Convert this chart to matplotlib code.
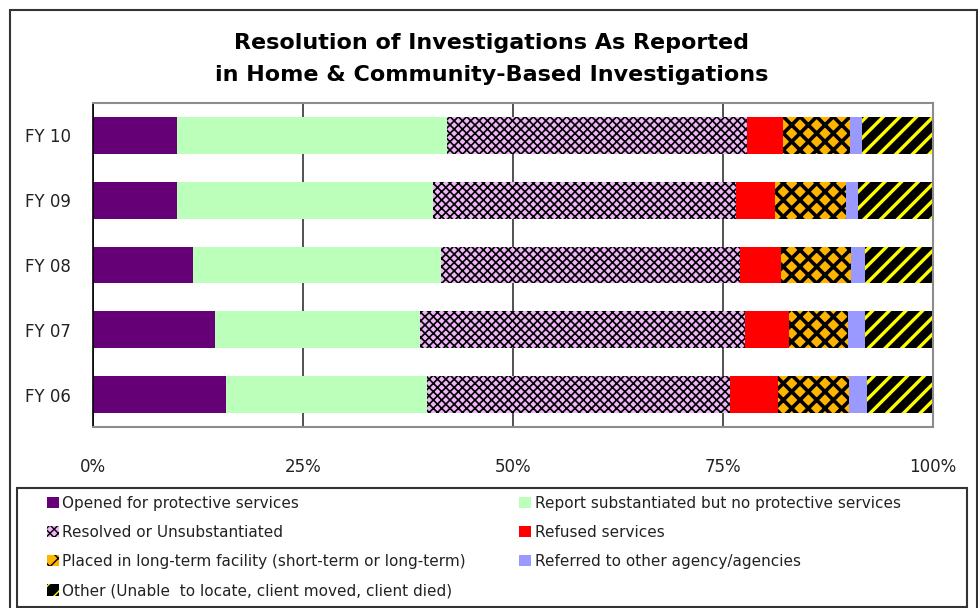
import matplotlib.pyplot as plt
import matplotlib as mpl
from matplotlib.patches import Rectangle
import numpy as np

years = ['FY 10', 'FY 09', 'FY 08', 'FY 07', 'FY 06']

opened = [10.0, 10.0, 11.9, 14.5, 15.8]
substantiated = [32.2, 30.5, 29.5, 24.4, 24.0]
resolved = [35.7, 36.0, 35.6, 38.7, 36.0]
refused = [4.2, 4.7, 4.9, 5.3, 5.8]
placed = [8.0, 8.4, 8.3, 7.0, 8.4]
referred = [1.5, 1.5, 1.7, 2.0, 2.2]
other = [8.4, 8.9, 8.1, 8.1, 7.8]

labels = ['Opened for protective services',
          'Report substantiated but no protective services',
          'Resolved or Unsubstantiated',
          'Refused services',
          'Placed in long-term facility (short-term or long-term)',
          'Referred to other agency/agencies',
          'Other (Unable  to locate, client moved, client died)']

series = [opened, substantiated, resolved, refused, placed, referred, other]
# face colour, hatch colour, hatch, hatch linewidth
styles = [('#660077', '#660077', None, 1),
          ('#BBFFBB', '#BBFFBB', None, 1),
          ('#F0B4F8', 'black', 'xxxx', 1.2),
          ('#FF0000', '#FF0000', None, 1),
          ('#FFB400', 'black', 'xx', 2.6),
          ('#9999FF', '#9999FF', None, 1),
          ('black', '#FFFF00', '//', 2.4)]

plt.rcParams['font.family'] = 'DejaVu Sans'

fig = plt.figure(figsize=(9.79, 6.08), dpi=100)
ax = fig.add_axes([93/979, 1-427/608, 840/979, 324/608])

y = np.arange(len(years))
left = np.zeros(len(years))
bars = []
for vals, (fc, hc, hatch, hlw) in zip(series, styles):
    with mpl.rc_context({'hatch.linewidth': hlw}):
        b = ax.barh(y, vals, left=left, height=0.57, color=fc,
                    edgecolor=hc, hatch=hatch, linewidth=0)
    bars.append(b)
    left = left + np.array(vals)

ax.set_xlim(0, 100)
ax.set_ylim(4.5, -0.5)
ax.set_yticks(y)
ax.set_yticklabels(years)
ax.set_xticks([0, 25, 50, 75, 100])
ax.set_xticklabels(['0%', '25%', '50%', '75%', '100%'])
ax.tick_params(axis='both', length=0, labelsize=12, colors='#222222')
ax.tick_params(axis='x', pad=22)
ax.tick_params(axis='y', pad=16)
ax.grid(axis='x', color='#333333', linewidth=1.2)
ax.set_axisbelow(True)
for s in ['top', 'right', 'bottom']:
    ax.spines[s].set_color('#8c8c8c')
    ax.spines[s].set_linewidth(1.5)
ax.spines['left'].set_color('black')
ax.spines['left'].set_linewidth(1.2)

fig.text(492/979, 1-43/608, 'Resolution of Investigations As Reported',
         ha='center', va='center', fontsize=16, fontweight='bold')
fig.text(492/979, 1-75/608, 'in Home & Community-Based Investigations',
         ha='center', va='center', fontsize=16, fontweight='bold')

# outer chart frame and legend frame
fig.patches.append(Rectangle((10/979, -0.05), 967/979, 1.05 - 10/608,
                             transform=fig.transFigure, fill=False,
                             edgecolor='#333333', linewidth=1.5))
fig.patches.append(Rectangle((17/979, 1-607/608), 950/979, 119/608,
                             transform=fig.transFigure, fill=False,
                             edgecolor='#333333', linewidth=1.5))

order = [0, 2, 4, 6, 1, 3, 5]
leg = fig.legend([bars[i] for i in order], [labels[i] for i in order],
                 loc='upper left', bbox_to_anchor=(41/979, 1-490/608),
                 ncol=2, frameon=False, fontsize=11, handlelength=0.75,
                 handleheight=0.75, handletextpad=0.25, columnspacing=3.5,
                 labelspacing=0.92, borderaxespad=0)
for t in leg.get_texts():
    t.set_color('#222222')

fig.savefig('out.png', dpi=100)
